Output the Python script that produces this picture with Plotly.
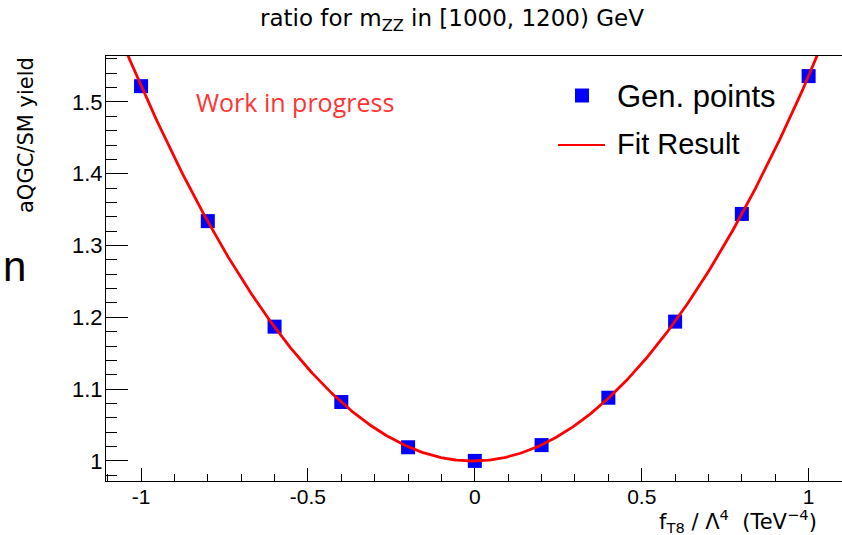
import numpy as np
import plotly.graph_objects as go

# Generated ratio points (aQGC / SM yield) vs. the f_T8 coupling
coupling = [-1.0, -0.8, -0.6, -0.4, -0.2, 0.0, 0.2, 0.4, 0.6, 0.8, 1.0]
ratio = [1.522, 1.334, 1.187, 1.082, 1.019, 1.000, 1.022, 1.088, 1.194, 1.344, 1.536]

# Axis tick labels
x_tickvals = [-1.0, -0.5, 0.0, 0.5, 1.0]
x_ticktext = ["-1", "-0.5", "0", "0.5", "1"]
y_tickvals = [1.0, 1.1, 1.2, 1.3, 1.4, 1.5]
y_ticktext = ["1", "1.1", "1.2", "1.3", "1.4", "1.5"]

x_range = [-1.105, 1.10]
y_range = [0.972, 1.564]

# Quadratic fit of the generated points
coef = np.polyfit(coupling, ratio, 2)
fit_x = np.linspace(x_range[0], x_range[1], 500)
fit_y = np.polyval(coef, fit_x)

W, H = 842, 535
L, R, T, B = 106, 0, 56, 54
pw, ph = W - L - R, H - T - B


def px(x):
    return (x - L) / pw


def py(y):
    return (H - B - y) / ph


FONT = "Liberation Sans, Arial, Helvetica, sans-serif"
WIDE = "DejaVu Sans, sans-serif"

fig = go.Figure()
fig.add_trace(go.Scatter(
    x=coupling, y=ratio, mode="markers", name="Gen. points",
    marker=dict(symbol="square", size=14, color="#0000ff", line=dict(width=0)),
    showlegend=False,
))
fig.add_trace(go.Scatter(
    x=fit_x, y=fit_y, mode="lines", name="Fit Result",
    line=dict(color="#ff0000", width=2.8),
    showlegend=False,
))

fig.update_xaxes(
    range=x_range, showgrid=False, zeroline=False,
    showline=True, linecolor="black", linewidth=1, mirror=True,
    ticks="inside", ticklen=13, tickcolor="black", tickwidth=1,
    tickvals=x_tickvals, ticktext=x_ticktext,
    tickfont=dict(family=FONT, size=21, color="black"),
    minor=dict(ticks="inside", ticklen=7, tickcolor="black", dtick=0.1, tick0=0, showgrid=False),
    ticklabelstandoff=-3,
)
fig.update_yaxes(
    range=y_range, showgrid=False, zeroline=False,
    showline=True, linecolor="black", linewidth=1,
    ticks="inside", ticklen=22, tickcolor="black", tickwidth=1,
    tickvals=y_tickvals, ticktext=y_ticktext,
    tickfont=dict(family=FONT, size=22, color="black"),
    minor=dict(ticks="inside", ticklen=11, tickcolor="black", dtick=0.02, tick0=1.0, showgrid=False),
    ticklabelstandoff=-2,
)

annotations = [
    dict(text="ratio for m<sub>ZZ</sub> in [1000, 1200) GeV", x=px(452), y=py(20),
         xanchor="center", yanchor="middle", font=dict(family=WIDE, size=23, color="black")),
    dict(text="aQGC/SM yield", x=px(26), y=py(55), textangle=-90,
         xanchor="center", yanchor="top", font=dict(family=WIDE, size=21, color="black")),
    dict(text="f<sub>T8</sub> / Λ<sup>4</sup>  (TeV<sup>−4</sup>)", x=px(819), y=py(521),
         xanchor="right", yanchor="middle", font=dict(family=WIDE, size=21, color="black")),
    dict(text="n", x=px(14), y=py(266), xanchor="center", yanchor="middle",
         font=dict(family=FONT, size=42, color="black")),
    dict(text="Work in progress", x=px(194), y=py(102), xanchor="left", yanchor="middle",
         font=dict(family="Open Sans, sans-serif", size=25, color="#ff3333")),
    dict(text="Gen. points", x=px(615), y=py(97), xanchor="left", yanchor="middle",
         font=dict(family=FONT, size=31, color="black")),
    dict(text="Fit Result", x=px(615), y=py(144), xanchor="left", yanchor="middle",
         font=dict(family=FONT, size=29, color="black")),
]
for a in annotations:
    a.update(xref="paper", yref="paper", showarrow=False)

shapes = [
    # legend entry: marker
    dict(type="rect", xref="paper", yref="paper", xsizemode="pixel", ysizemode="pixel",
         xanchor=px(582), yanchor=py(95.5), x0=-7, x1=7, y0=-7, y1=7,
         fillcolor="#0000ff", line=dict(width=0)),
    # legend entry: line
    dict(type="line", xref="paper", yref="paper", x0=px(558), x1=px(605), y0=py(145), y1=py(145),
         line=dict(color="#ff0000", width=2)),
]

fig.update_layout(
    width=W, height=H,
    margin=dict(l=L, r=R, t=T, b=B),
    paper_bgcolor="white", plot_bgcolor="white",
    annotations=annotations, shapes=shapes,
    showlegend=False,
)

fig.write_html("out.html")
